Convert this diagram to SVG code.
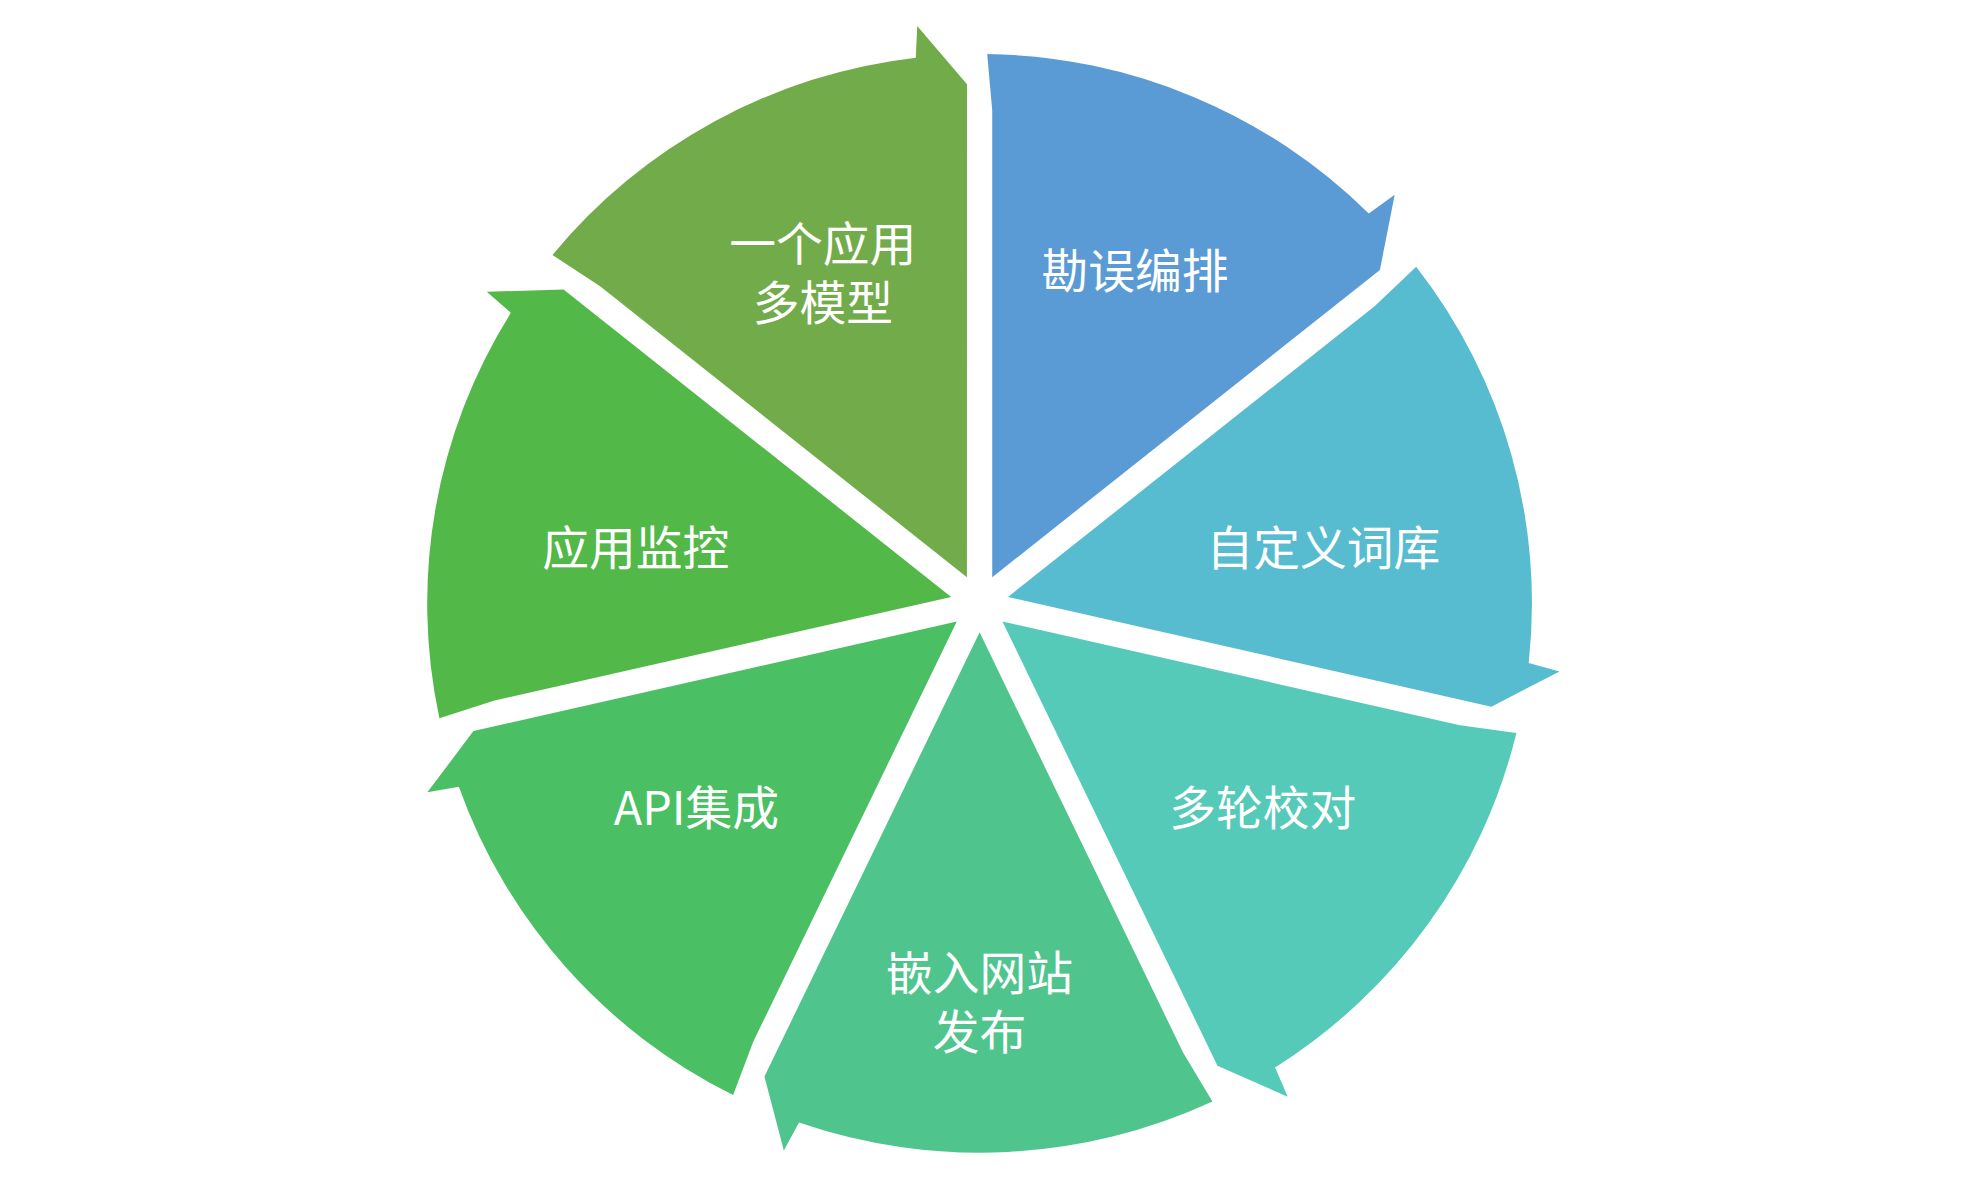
<svg xmlns="http://www.w3.org/2000/svg" xmlns:xlink="http://www.w3.org/1999/xlink" width="1981" height="1191" viewBox="0 0 1981 1191">
<style>
text{font-family:"Noto Sans CJK SC","Noto Sans",sans-serif;font-size:37px;fill:#fff;text-anchor:middle;dominant-baseline:central}
</style>
<defs>
<path id="seg" d="M10,-20.8 L10,-392 L6,-437 A437 437 0 0 1 307.9,-310.1 L328.4,-325 L316.7,-265.3 Z"/>
</defs>
<rect width="1981" height="1191" fill="#fff"/>
<g transform="scale(1.264,1.257)">
<g id="connectors"/>
<g id="n1"><use xlink:href="#seg" href="#seg" fill="#5B9BD5" transform="translate(775,480)"/><text x="898" y="213">勘误编排</text></g>
<g id="n2"><use href="#seg" fill="#57BCD0" transform="translate(775,480) rotate(51.4286)"/><text x="1047" y="433">自定义词库</text></g>
<g id="n3"><use href="#seg" fill="#55CAB8" transform="translate(775,480) rotate(102.857)"/><text x="999" y="640">多轮校对</text></g>
<g id="n4"><use href="#seg" fill="#4FC58D" transform="translate(775,480) rotate(154.286)"/><text x="775" y="771">嵌入网站<tspan x="775" y="818">发布</tspan></text></g>
<g id="n5"><use href="#seg" fill="#4ABF64" transform="translate(775,480) rotate(205.714)"/><text x="551" y="640">API集成</text></g>
<g id="n6"><use href="#seg" fill="#52B848" transform="translate(775,480) rotate(257.143)"/><text x="503" y="433">应用监控</text></g>
<g id="n7"><use href="#seg" fill="#72AC4A" transform="translate(775,480) rotate(308.571)"/><text x="651" y="191">一个应用<tspan x="651" y="238">多模型</tspan></text></g>
</g>
</svg>
